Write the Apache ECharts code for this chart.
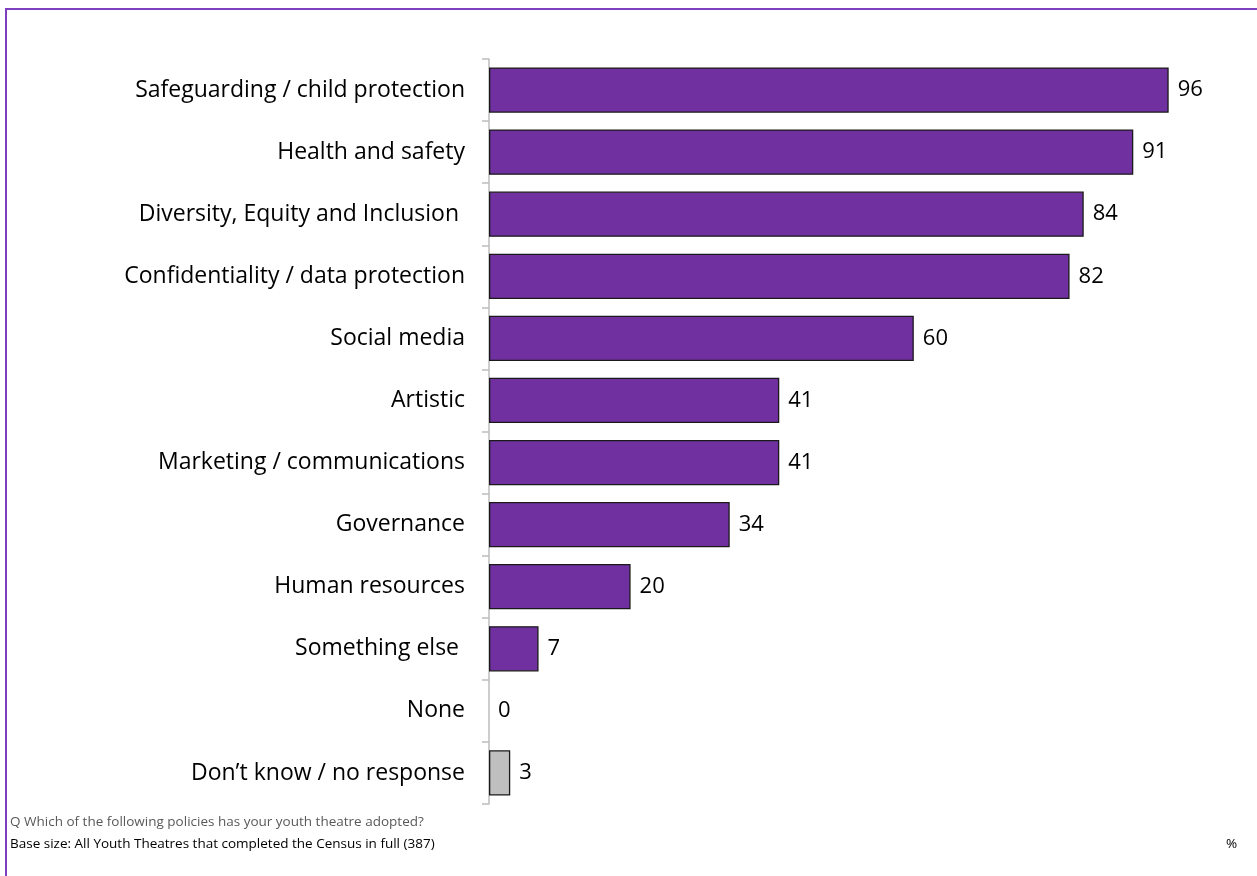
<!DOCTYPE html>
<html>
<head>
<meta charset="utf-8">
<title>Policies adopted by youth theatres</title>
<script src="https://cdn.jsdelivr.net/npm/echarts@6/dist/echarts.min.js"></script>
<style>
  html, body { margin: 0; padding: 0; background: #fff; }
  #chart { width: 1257px; height: 876px; }
</style>
</head>
<body>
<div id="chart"></div>
<script>
// Policy categories, top to bottom
const categories = [
  'Safeguarding / child protection',
  'Health and safety',
  'Diversity, Equity and Inclusion ',
  'Confidentiality / data protection',
  'Social media',
  'Artistic',
  'Marketing / communications',
  'Governance',
  'Human resources',
  'Something else ',
  'None',
  'Don\u2019t know / no response'
];

// Share of youth theatres (%)
const values = [96, 91, 84, 82, 60, 41, 41, 34, 20, 7, 0, 3];

// Categories drawn in grey rather than purple
const greyCategories = ['Don\u2019t know / no response'];

const questionText = 'Q Which of the following policies has your youth theatre adopted?';
const baseText = 'Base size: All Youth Theatres that completed the Census in full (387)';
const unitText = '%';

const FONT = '"Open Sans", "Noto Sans", sans-serif';
const PURPLE = '#7030A0';
const GREY = '#BFBFBF';

const chart = echarts.init(document.getElementById('chart'), null, { renderer: 'canvas' });

chart.setOption({
  backgroundColor: '#ffffff',
  animation: false,
  grid: { left: 489, top: 59, width: 708, height: 745, containLabel: false },
  xAxis: {
    type: 'value',
    min: 0,
    max: 100,
    show: false
  },
  yAxis: {
    type: 'category',
    inverse: true,
    data: categories,
    axisLine: { show: true, lineStyle: { color: '#BDBDBD', width: 1.5 } },
    axisTick: { show: true, length: 7, lineStyle: { color: '#BDBDBD', width: 1.5 } },
    axisLabel: {
      margin: 24,
      fontFamily: FONT,
      fontSize: 23,
      color: '#000000'
    },
    splitLine: { show: false }
  },
  series: [{
    type: 'bar',
    barCategoryGap: '27%',
    data: values.map((v, i) => ({
      value: v,
      itemStyle: {
        color: greyCategories.includes(categories[i]) ? GREY : PURPLE,
        borderColor: '#1a1a1a',
        borderWidth: v === 0 ? 0 : 1.3
      }
    })),
    label: {
      show: true,
      position: 'right',
      distance: 9,
      fontFamily: FONT,
      fontSize: 22,
      color: '#000000'
    }
  }],
  graphic: [
    {
      type: 'rect',
      shape: { x: 6, y: 9, width: 1400, height: 1000 },
      style: { fill: 'none', stroke: '#7F3FBF', lineWidth: 2 },
      silent: true
    },
    {
      type: 'text',
      left: 10,
      top: 815,
      style: { text: questionText, fontFamily: FONT, fontSize: 13.5, fill: '#595959' }
    },
    {
      type: 'text',
      left: 10,
      top: 837,
      style: { text: baseText, fontFamily: FONT, fontSize: 13.5, fill: '#000000' }
    },
    {
      type: 'text',
      left: 1226,
      top: 837,
      style: { text: unitText, fontFamily: FONT, fontSize: 13.5, fill: '#000000' }
    }
  ]
});
</script>
</body>
</html>
